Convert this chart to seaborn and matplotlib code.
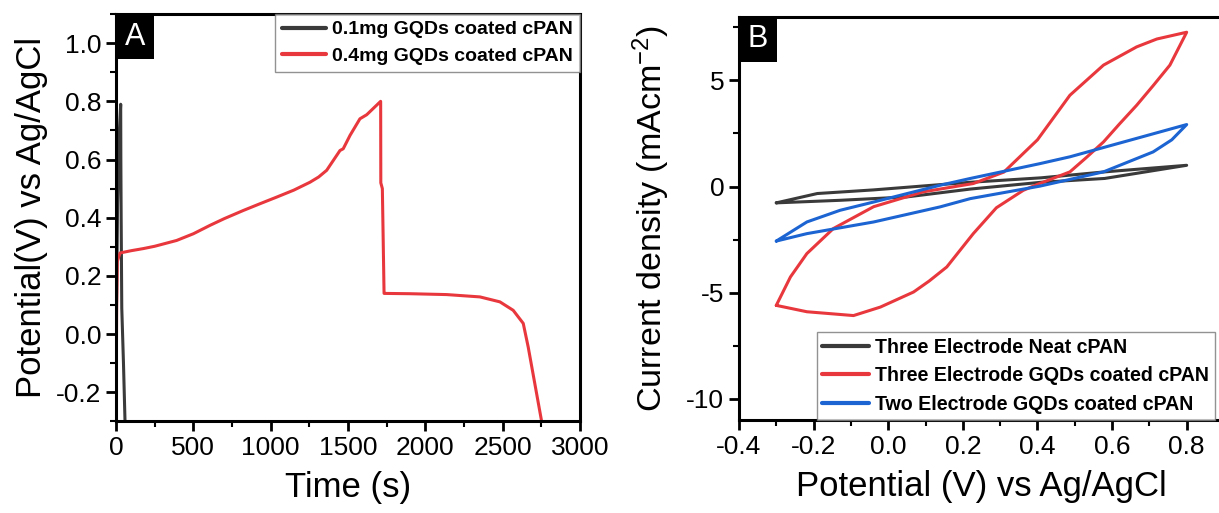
import seaborn as sns
import matplotlib.pyplot as plt
from matplotlib.patches import Rectangle
from matplotlib.ticker import MultipleLocator, FormatStrFormatter

# Panel A - galvanostatic charge / discharge
time_01mg = [0, 3, 10, 20, 30, 31, 33, 37, 48, 58]
pot_01mg = [-0.30, 0.10, 0.45, 0.68, 0.79, 0.60, 0.40, 0.09, -0.10, -0.30]

time_04mg = [0, 4, 8, 26, 100, 176, 250, 392, 500, 608, 700, 823, 930, 1039,
             1150, 1254, 1310, 1362, 1448, 1469, 1513, 1577, 1621, 1711, 1712,
             1722, 1733, 1739, 1900, 2138, 2353, 2482, 2568, 2633, 2665, 2752]
pot_04mg = [-0.30, 0.10, 0.25, 0.279, 0.287, 0.294, 0.302, 0.322, 0.345, 0.374,
            0.397, 0.425, 0.448, 0.471, 0.495, 0.522, 0.540, 0.563, 0.631, 0.637,
            0.683, 0.740, 0.754, 0.800, 0.520, 0.500, 0.140, 0.140, 0.139, 0.136,
            0.128, 0.111, 0.082, 0.037, -0.044, -0.300]

labels_a = ['0.1mg GQDs coated cPAN', '0.4mg GQDs coated cPAN']

# Panel B - cyclic voltammetry loops
v_neat3 = [-0.30, -0.19, -0.04, 0.14, 0.22, 0.41, 0.58, 0.80,
           0.58, 0.41, 0.22, 0.05, -0.13, -0.30]
i_neat3 = [-0.77, -0.33, -0.16, 0.09, 0.20, 0.41, 0.69, 1.00,
           0.38, 0.20, -0.12, -0.49, -0.65, -0.77]

v_gqd3 = [-0.30, -0.262, -0.218, -0.147, -0.039, 0.094, 0.228, 0.31, 0.371,
          0.40, 0.487, 0.577, 0.666, 0.72, 0.80,
          0.755, 0.71, 0.666, 0.62, 0.577, 0.53, 0.487, 0.40, 0.362, 0.29,
          0.228, 0.157, 0.11, 0.068, -0.021, -0.093, -0.218, -0.30]
i_gqd3 = [-5.60, -4.26, -3.16, -1.98, -0.95, -0.25, 0.14, 0.68, 1.71,
          2.20, 4.30, 5.72, 6.58, 6.95, 7.27,
          5.72, 4.75, 3.83, 2.95, 2.10, 1.35, 0.69, 0.10, -0.18, -1.00,
          -2.22, -3.79, -4.45, -4.97, -5.68, -6.08, -5.90, -5.60]

v_gqd2 = [-0.30, -0.218, -0.129, -0.039, 0.139, 0.22, 0.407, 0.487, 0.80,
          0.76, 0.71, 0.577, 0.407, 0.22, 0.139, -0.039, -0.218, -0.30]
i_gqd2 = [-2.57, -1.67, -1.12, -0.73, 0.06, 0.38, 1.08, 1.40, 2.92,
          2.20, 1.63, 0.69, 0.02, -0.57, -0.96, -1.67, -2.22, -2.57]

labels_b = ['Three Electrode Neat cPAN', 'Three Electrode GQDs coated cPAN',
            'Two Electrode GQDs coated cPAN']

c_black = '#3a3a3a'
c_red = '#e8383d'
c_blue = '#1c64d2'

sns.set_style('ticks')
plt.rcParams['font.family'] = ['Liberation Sans', 'DejaVu Sans']
plt.rcParams['mathtext.default'] = 'regular'
plt.rcParams['axes.unicode_minus'] = False
for k in ['text.color', 'axes.labelcolor', 'xtick.color', 'ytick.color', 'axes.edgecolor']:
    plt.rcParams[k] = 'black'

fig = plt.figure(figsize=(12.19, 5.13), dpi=100)
axA = fig.add_axes([0.0952, 0.1784, 0.3806, 0.7943])
axB = fig.add_axes([0.6062, 0.1813, 0.3979, 0.7861])

sns.lineplot(x=time_01mg, y=pot_01mg, sort=False, estimator=None, color=c_black,
             lw=2.2, label=labels_a[0], ax=axA)
sns.lineplot(x=time_04mg, y=pot_04mg, sort=False, estimator=None, color=c_red,
             lw=2.2, label=labels_a[1], ax=axA)

sns.lineplot(x=v_neat3, y=i_neat3, sort=False, estimator=None, color=c_black,
             lw=2.2, label=labels_b[0], ax=axB)
sns.lineplot(x=v_gqd3, y=i_gqd3, sort=False, estimator=None, color=c_red,
             lw=2.2, label=labels_b[1], ax=axB)
sns.lineplot(x=v_gqd2, y=i_gqd2, sort=False, estimator=None, color=c_blue,
             lw=2.2, label=labels_b[2], ax=axB)

axA.set_xlim(0, 3000)
axA.set_ylim(-0.3, 1.1)
axA.xaxis.set_major_locator(MultipleLocator(500))
axA.xaxis.set_minor_locator(MultipleLocator(250))
axA.yaxis.set_major_locator(MultipleLocator(0.2))
axA.yaxis.set_minor_locator(MultipleLocator(0.1))
axA.yaxis.set_major_formatter(FormatStrFormatter('%.1f'))
axA.set_xlabel('Time (s)', fontsize=25, labelpad=8)
axA.set_ylabel('Potential(V) vs Ag/AgCl', fontsize=25, labelpad=6)

axB.set_xlim(-0.4, 0.9)
axB.set_ylim(-11, 8)
axB.xaxis.set_major_locator(MultipleLocator(0.2))
axB.xaxis.set_minor_locator(MultipleLocator(0.1))
axB.xaxis.set_major_formatter(FormatStrFormatter('%.1f'))
axB.yaxis.set_major_locator(MultipleLocator(5))
axB.yaxis.set_minor_locator(MultipleLocator(2.5))
axB.set_xlabel('Potential (V) vs Ag/AgCl', fontsize=25, labelpad=8)
axB.set_ylabel('Current density (mAcm$^{-2}$)', fontsize=24.5, labelpad=10)

for ax, tag in [(axA, 'A'), (axB, 'B')]:
    for s in ax.spines.values():
        s.set_visible(True)
        s.set_linewidth(2.2)
        s.set_color('black')
    ax.tick_params(which='major', direction='out', length=7, width=2,
                   labelsize=19, top=False, right=False)
    ax.tick_params(which='minor', direction='out', length=4, width=1.5,
                   top=False, right=False)
    bw = 38 / (ax.get_position().width * 1219)
    bh = 45 / (ax.get_position().height * 513)
    ax.add_patch(Rectangle((0, 1 - bh), bw, bh, transform=ax.transAxes,
                           facecolor='black', edgecolor='none', zorder=5))
    ax.text(bw / 2, 1 - bh / 2, tag, transform=ax.transAxes, color='white',
            fontsize=22, ha='center', va='center', zorder=6)

legA = axA.legend(loc='upper right', borderaxespad=0,
                  prop={'weight': 'bold', 'size': 14}, frameon=True,
                  fancybox=False, handlelength=2.3, handletextpad=0.3,
                  borderpad=0.35, labelspacing=0.45)
legA.get_frame().set_edgecolor('#777777')
legA.get_frame().set_linewidth(1)
for ln in legA.get_lines():
    ln.set_linewidth(3)

legB = axB.legend(loc='lower left', bbox_to_anchor=(0.16, 0), borderaxespad=0,
                  prop={'weight': 'bold', 'size': 14.1}, frameon=True,
                  fancybox=False, handlelength=2.4, handletextpad=0.3,
                  borderpad=0.3, labelspacing=0.5)
legB.get_frame().set_edgecolor('#777777')
legB.get_frame().set_linewidth(1)
for ln in legB.get_lines():
    ln.set_linewidth(3)

fig.savefig('out.png', dpi=100)
